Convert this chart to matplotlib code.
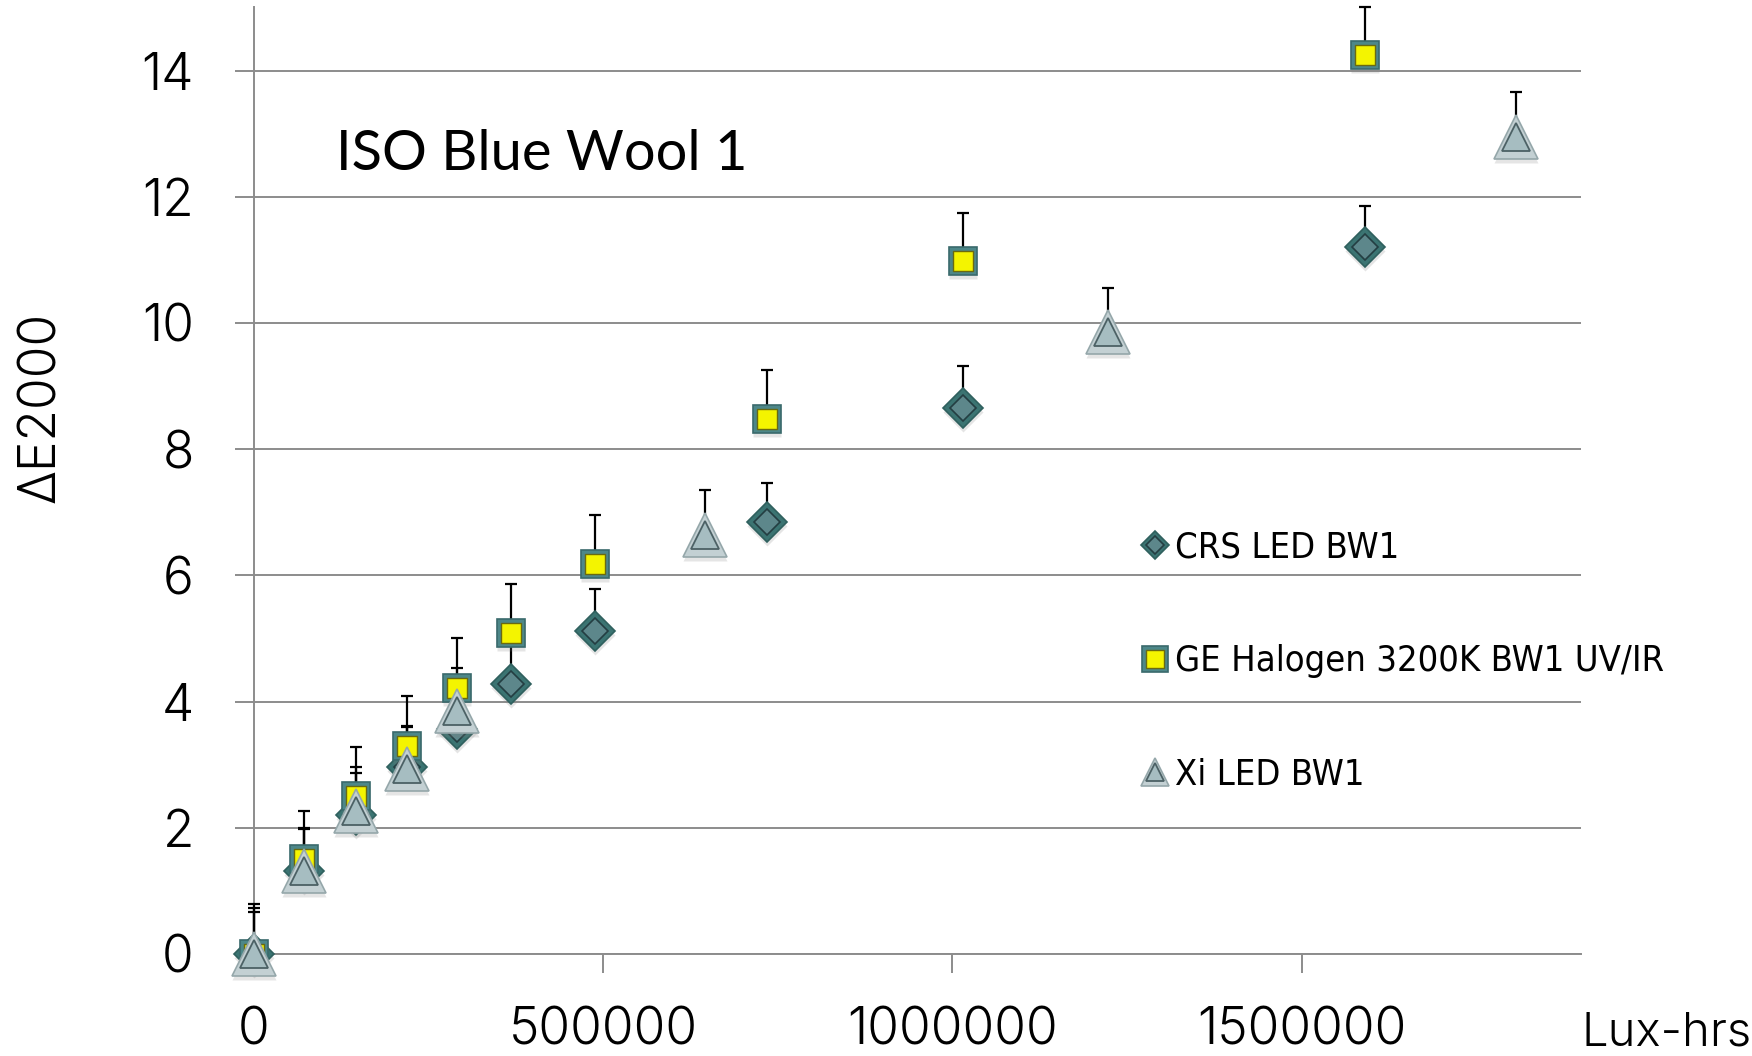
import numpy as np
import matplotlib
matplotlib.use("Agg")
import matplotlib.pyplot as plt
from matplotlib import transforms
from matplotlib.lines import Line2D
from matplotlib.legend_handler import HandlerTuple

# Exposure (lux-hours) and colour change (ΔE2000) with upper error bars
crs_x = [0, 72000, 146000, 219000, 291000, 368000, 489000, 734000, 1015000, 1591000]
crs_y = [0, 1.32, 2.20, 2.96, 3.56, 4.28, 5.12, 6.85, 8.66, 11.20]
crs_err = [0.67, 0.68, 0.67, 0.64, 0.64, 0.62, 0.66, 0.62, 0.66, 0.66]

ge_x = [0, 72000, 146000, 219000, 291000, 368000, 489000, 734000, 1015000, 1591000]
ge_y = [0, 1.50, 2.50, 3.30, 4.21, 5.09, 6.18, 8.48, 10.98, 14.25]
ge_err = [0.79, 0.77, 0.78, 0.79, 0.79, 0.78, 0.78, 0.78, 0.77, 0.75]

xi_x = [0, 72000, 146000, 219000, 291000, 646000, 1223000, 1807000]
xi_y = [0, 1.31, 2.27, 2.93, 3.85, 6.64, 9.86, 12.95]
xi_err = [0.73, 0.67, 0.70, 0.68, 0.68, 0.72, 0.69, 0.71]

labels = ["CRS LED BW1", "GE Halogen 3200K BW1 UV/IR", "Xi LED BW1"]
x_ticks = [0, 500000, 1000000, 1500000]
y_ticks = [0, 2, 4, 6, 8, 10, 12, 14]

plt.rcParams["font.family"] = ["Lato", "DejaVu Sans"]
THIN = {"family": ["Inter", "DejaVu Sans"], "weight": 300}

fig = plt.figure(figsize=(17.52, 10.56), dpi=100)
ax = fig.add_axes([0.14475, 0.0966, 0.7578, 0.8963])

GRID = "#8c8c8c"

# Bevelled marker styles: (outer, inner) drawn on top of each other
styles = {
    "crs": dict(marker="D", outer=dict(ms=20, mfc="#3b7472", mec="#2f605e", mew=1.2),
                inner=dict(ms=13, mfc="#5d878b", mec="#243e42", mew=1.2)),
    "ge": dict(marker="s", outer=dict(ms=20, mfc="#4d8789", mec="#3a6a6c", mew=1.2),
               inner=dict(ms=14, mfc="#f4f400", mec="#6a6a10", mew=1.0)),
    "xi": dict(marker="^", outer=dict(ms=31, mfc="#c3d0d3", mec="#95a7aa", mew=1.2),
               inner=dict(ms=20, mfc="#a6bdc1", mec="#4c6165", mew=1.3)),
}

shadow = transforms.offset_copy(ax.transData, fig=fig, x=0, y=-4, units="dots")

series = [("crs", crs_x, crs_y, crs_err, 3),
          ("ge", ge_x, ge_y, ge_err, 4),
          ("xi", xi_x, xi_y, xi_err, 5)]

for key, xs, ys, errs, z in series:
    xs = np.asarray(xs, float)
    ys = np.asarray(ys, float)
    errs = np.asarray(errs, float)
    ax.errorbar(xs, ys, yerr=[np.zeros_like(errs), errs], fmt="none",
                ecolor="black", elinewidth=1.6, capsize=4.5, capthick=1.6,
                zorder=2.6, clip_on=False)

for key, xs, ys, errs, z in series:
    st = styles[key]
    o = st["outer"]
    ax.plot(xs, ys, ls="none", marker=st["marker"], ms=o["ms"], mfc="#808080",
            mec="none", alpha=0.2, transform=shadow, zorder=z, clip_on=False)
    ax.plot(xs, ys, ls="none", marker=st["marker"], zorder=z + 0.1, clip_on=False, **o)
    ax.plot(xs, ys, ls="none", marker=st["marker"], zorder=z + 0.2, clip_on=False,
            **st["inner"])

ax.set_xlim(0, 1900000)
ax.set_ylim(0, 15)
ax.set_xticks(x_ticks)
ax.set_xticklabels([str(v) for v in x_ticks])
ax.set_yticks(y_ticks)
ax.set_yticklabels([str(v) for v in y_ticks])

ax.grid(axis="y", color=GRID, lw=1.4, zorder=1)
ax.set_axisbelow(True)
for s in ("top", "right"):
    ax.spines[s].set_visible(False)
for s in ("left", "bottom"):
    ax.spines[s].set_color(GRID)
    ax.spines[s].set_linewidth(1.4)

ax.tick_params(axis="y", direction="out", length=14, width=1.4, color=GRID,
               labelcolor="black", pad=29, labelsize=37)
ax.tick_params(axis="x", direction="out", length=14, width=1.4, color=GRID,
               labelcolor="black", pad=24, labelsize=37)
for lab in ax.get_xticklabels() + ax.get_yticklabels():
    lab.set_fontfamily(THIN["family"])
    lab.set_fontweight(THIN["weight"])

ax.text(0.062, 0.845, "ISO Blue Wool 1", transform=ax.transAxes, fontsize=40.3,
        ha="left", va="center", color="black")

fig.text(0.024, 0.614, "ΔE2000", rotation=90, fontsize=37, ha="center",
         va="center", color="black", **THIN)
fig.text(0.9025, 0.021, "Lux-hrs", fontsize=34, ha="left", va="center",
         color="black", **THIN)

# Legend with smaller copies of the bevelled markers
leg_sizes = {"crs": (14, 9), "ge": (19, 13), "xi": (20, 13)}
handles = []
for key in ("crs", "ge", "xi"):
    st = styles[key]
    so, si = leg_sizes[key]
    o = dict(st["outer"]); o["ms"] = so
    i = dict(st["inner"]); i["ms"] = si
    handles.append((Line2D([], [], ls="none", marker=st["marker"], **o),
                    Line2D([], [], ls="none", marker=st["marker"], **i)))

ax.legend(handles, labels, handler_map={tuple: HandlerTuple(ndivide=1, pad=0)},
          loc="center left", bbox_to_anchor=(0.6395, 0.3737),
          bbox_transform=fig.transFigure, frameon=False, borderpad=0,
          handlelength=0.9, handletextpad=0.1, labelspacing=2.2,
          prop={"family": "DejaVu Sans", "stretch": "condensed", "size": 26})

fig.savefig("out.png", dpi=100)
